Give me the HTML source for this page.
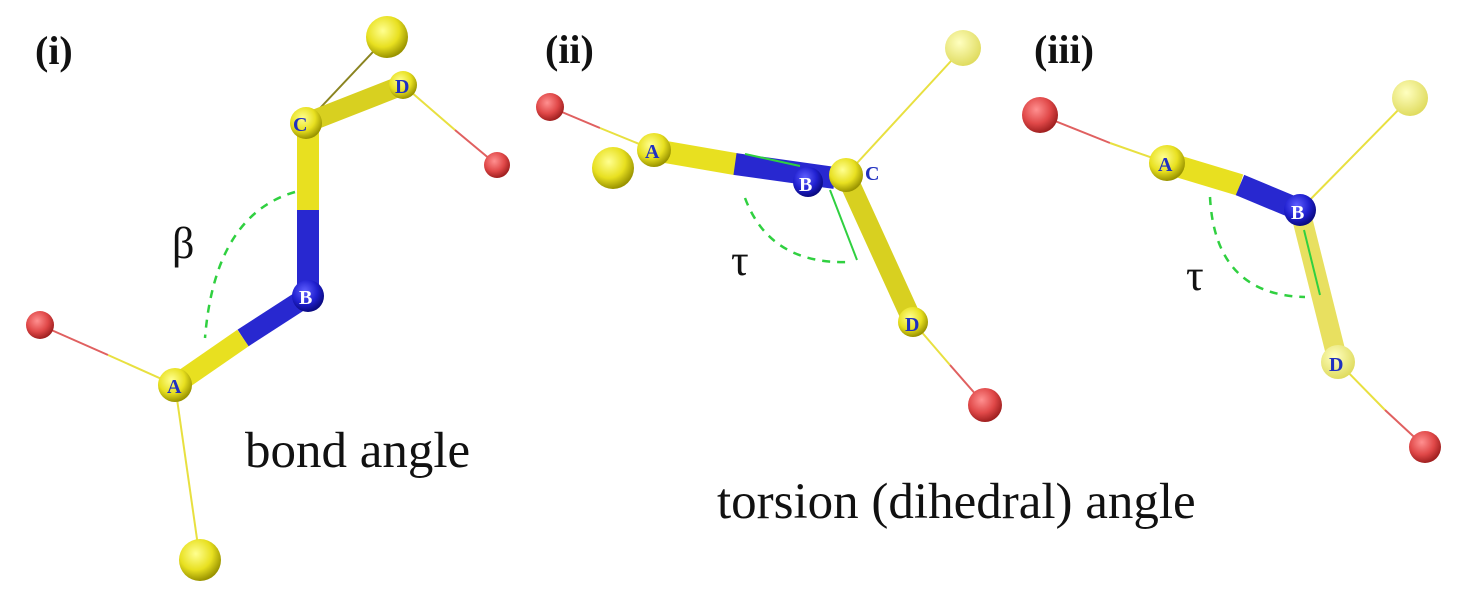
<!DOCTYPE html>
<html><head><meta charset="utf-8"><style>
html,body{margin:0;padding:0;background:#fff;}
svg{display:block;}
</style></head><body>
<svg width="1466" height="606" viewBox="0 0 1466 606" xmlns="http://www.w3.org/2000/svg" font-family="Liberation Serif, serif">
<defs>
<radialGradient id="y" cx="0.4" cy="0.35" r="0.65"><stop offset="0" stop-color="#ffff90"/><stop offset="0.6" stop-color="#e8e020"/><stop offset="1" stop-color="#9a9400"/></radialGradient>
<radialGradient id="yl" cx="0.4" cy="0.35" r="0.65"><stop offset="0" stop-color="#ffffc0"/><stop offset="1" stop-color="#e0dc60"/></radialGradient>
<radialGradient id="r" cx="0.4" cy="0.35" r="0.65"><stop offset="0" stop-color="#ff9090"/><stop offset="0.6" stop-color="#e04848"/><stop offset="1" stop-color="#a02020"/></radialGradient>
<radialGradient id="b" cx="0.4" cy="0.35" r="0.65"><stop offset="0" stop-color="#6060ff"/><stop offset="0.6" stop-color="#2020d0"/><stop offset="1" stop-color="#0a0a80"/></radialGradient>
</defs>
<g font-weight="bold" font-size="40" fill="#111">
<text x="35" y="64">(i)</text><text x="545" y="63">(ii)</text><text x="1034" y="63">(iii)</text>
</g>
<!-- Panel i -->
<line x1="40" y1="325" x2="108" y2="355" stroke="#e06060" stroke-width="2"/>
<line x1="108" y1="355" x2="175" y2="385" stroke="#e8e040" stroke-width="2"/>
<line x1="175" y1="385" x2="200" y2="560" stroke="#e8e040" stroke-width="2"/>
<line x1="306" y1="123" x2="387" y2="37" stroke="#8a8420" stroke-width="2"/>
<line x1="403" y1="85" x2="455" y2="130" stroke="#e8e040" stroke-width="2"/>
<line x1="455" y1="130" x2="497" y2="165" stroke="#e06060" stroke-width="2"/>
<line x1="306" y1="123" x2="403" y2="85" stroke="#d8d020" stroke-width="20" stroke-linecap="round"/>
<line x1="308" y1="125" x2="308" y2="210" stroke="#e8e020" stroke-width="22"/>
<line x1="308" y1="210" x2="308" y2="296" stroke="#2828d0" stroke-width="22"/>
<line x1="308" y1="296" x2="243" y2="338" stroke="#2828d0" stroke-width="20"/>
<line x1="243" y1="338" x2="175" y2="385" stroke="#e8e020" stroke-width="20"/>
<circle cx="387" cy="37" r="21" fill="url(#y)"/>
<circle cx="403" cy="85" r="14" fill="url(#y)"/>
<circle cx="306" cy="123" r="16" fill="url(#y)"/>
<circle cx="497" cy="165" r="13" fill="url(#r)"/>
<circle cx="40" cy="325" r="14" fill="url(#r)"/>
<circle cx="308" cy="296" r="16" fill="url(#b)"/>
<circle cx="175" cy="385" r="17" fill="url(#y)"/>
<circle cx="200" cy="560" r="21" fill="url(#y)"/>
<path d="M295,192 Q215,215 205,338" fill="none" stroke="#30d040" stroke-width="2.5" stroke-dasharray="8,7"/>
<g font-weight="bold" font-size="20" fill="#2030c0"><text x="293" y="131">C</text><text x="395" y="93">D</text><text x="167" y="393">A</text><text x="299" y="304" fill="#fff">B</text></g>
<text x="172" y="258" font-size="44" fill="#111">β</text>
<text x="245" y="467" font-size="51" fill="#111">bond angle</text>
<!-- Panel ii -->
<line x1="550" y1="107" x2="600" y2="128" stroke="#e06060" stroke-width="2"/>
<line x1="600" y1="128" x2="654" y2="150" stroke="#e8e040" stroke-width="2"/>
<line x1="846" y1="175" x2="963" y2="48" stroke="#e8e040" stroke-width="2"/>
<line x1="913" y1="322" x2="950" y2="365" stroke="#e8e040" stroke-width="2"/>
<line x1="950" y1="365" x2="985" y2="405" stroke="#e06060" stroke-width="2"/>
<line x1="846" y1="175" x2="913" y2="322" stroke="#d8d020" stroke-width="20" stroke-linecap="round"/>
<line x1="654" y1="150" x2="735" y2="164" stroke="#e8e020" stroke-width="22" stroke-linecap="round"/>
<line x1="735" y1="164" x2="835" y2="178" stroke="#2828d0" stroke-width="22"/>
<circle cx="613" cy="168" r="21" fill="url(#y)"/>
<circle cx="550" cy="107" r="14" fill="url(#r)"/>
<circle cx="654" cy="150" r="17" fill="url(#y)"/>
<circle cx="963" cy="48" r="18" fill="url(#yl)"/>
<circle cx="846" cy="175" r="17" fill="url(#y)"/>
<circle cx="808" cy="182" r="15" fill="url(#b)"/>
<circle cx="913" cy="322" r="15" fill="url(#y)"/>
<circle cx="985" cy="405" r="17" fill="url(#r)"/>
<line x1="745" y1="154" x2="800" y2="166" stroke="#30d040" stroke-width="2"/>
<line x1="830" y1="190" x2="857" y2="260" stroke="#30d040" stroke-width="2"/>
<path d="M745,198 Q770,265 850,262" fill="none" stroke="#30d040" stroke-width="2.5" stroke-dasharray="8,7"/>
<g font-weight="bold" font-size="20" fill="#2030c0"><text x="645" y="158">A</text><text x="905" y="331">D</text><text x="865" y="180">C</text><text x="799" y="191" fill="#fff">B</text></g>
<text x="731" y="275" font-size="44" fill="#111">τ</text>
<text x="717" y="518" font-size="51" fill="#111">torsion (dihedral) angle</text>
<!-- Panel iii -->
<line x1="1040" y1="115" x2="1110" y2="143" stroke="#e06060" stroke-width="2"/>
<line x1="1110" y1="143" x2="1167" y2="163" stroke="#e8e040" stroke-width="2"/>
<line x1="1300" y1="210" x2="1410" y2="98" stroke="#e8e040" stroke-width="2"/>
<line x1="1338" y1="362" x2="1385" y2="410" stroke="#e8e040" stroke-width="2"/>
<line x1="1385" y1="410" x2="1425" y2="447" stroke="#e06060" stroke-width="2"/>
<line x1="1300" y1="210" x2="1338" y2="362" stroke="#e8e060" stroke-width="20" stroke-linecap="round"/>
<line x1="1304" y1="230" x2="1320" y2="295" stroke="#30d040" stroke-width="2"/>
<line x1="1167" y1="163" x2="1240" y2="185" stroke="#e8e020" stroke-width="22"/>
<line x1="1240" y1="185" x2="1300" y2="210" stroke="#2828d0" stroke-width="22"/>
<circle cx="1040" cy="115" r="18" fill="url(#r)"/>
<circle cx="1167" cy="163" r="18" fill="url(#y)"/>
<circle cx="1410" cy="98" r="18" fill="url(#yl)"/>
<circle cx="1300" cy="210" r="16" fill="url(#b)"/>
<circle cx="1338" cy="362" r="17" fill="url(#yl)"/>
<circle cx="1425" cy="447" r="16" fill="url(#r)"/>
<path d="M1210,197 Q1215,295 1305,297" fill="none" stroke="#30d040" stroke-width="2.5" stroke-dasharray="8,7"/>
<g font-weight="bold" font-size="20" fill="#2030c0"><text x="1158" y="171">A</text><text x="1329" y="371">D</text><text x="1291" y="219" fill="#fff">B</text></g>
<text x="1186" y="290" font-size="44" fill="#111">τ</text>
</svg>
</body></html>
